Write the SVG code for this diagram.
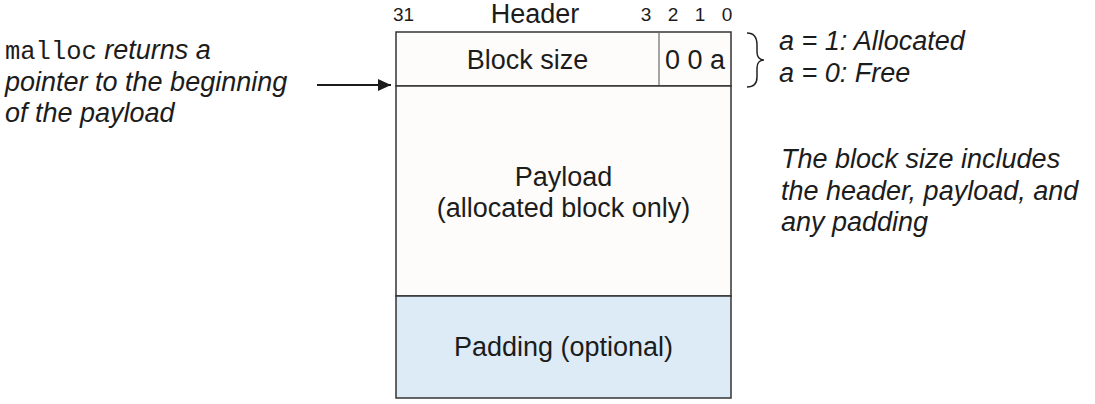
<svg xmlns="http://www.w3.org/2000/svg" width="1095" height="404" viewBox="0 0 1095 404">
  <style>
    .t { font-family: "Liberation Sans", Arial, sans-serif; fill: #1c1c1c; }
    .big { font-size: 27px; }
    .small { font-size: 19px; }
    .it { font-style: italic; }
    .mono { font-family: "Liberation Mono", "Courier New", monospace; font-size: 25.5px; fill: #1c1c1c; }
    .box { stroke: #333333; stroke-width: 1.5; }
    .inner { stroke: #6a6a6a; stroke-width: 1.2; fill: none; }
    .brace { stroke: #222; stroke-width: 1.5; fill: none; }
    .conn { stroke: #1c1c1c; stroke-width: 2; fill: none; }
  </style>
  <defs>
    <marker id="arrow" markerWidth="13" markerHeight="12" refX="13" refY="6" orient="auto" markerUnits="userSpaceOnUse">
      <path d="M0,0 L13,6 L0,12 Z" fill="#1c1c1c"/>
    </marker>
  </defs>
  <rect width="1095" height="404" fill="#ffffff"/>

  <g id="bit-labels">
    <text class="t small" x="393" y="21">31</text>
    <text class="t big" x="535" y="23" text-anchor="middle">Header</text>
    <text class="t small" x="646" y="21" text-anchor="middle">3</text>
    <text class="t small" x="673" y="21" text-anchor="middle">2</text>
    <text class="t small" x="700" y="21" text-anchor="middle">1</text>
    <text class="t small" x="727" y="21" text-anchor="middle">0</text>
  </g>

  <g id="header">
    <rect class="box" x="396" y="32" width="335" height="54" fill="#fdfcfa"/>
    <line class="inner" x1="659" y1="32" x2="659" y2="86"/>
    <text class="t big" x="527.5" y="69" text-anchor="middle">Block size</text>
    <text class="t big" x="695" y="69" text-anchor="middle">0 0 a</text>
  </g>

  <g id="payload">
    <rect class="box" x="396" y="86" width="335" height="210" fill="#fdfcfa"/>
    <text class="t big" x="563.5" y="186" text-anchor="middle">Payload</text>
    <text class="t big" x="563.5" y="217" text-anchor="middle">(allocated block only)</text>
  </g>

  <g id="padding">
    <rect class="box" x="396" y="296" width="335" height="102" fill="#dcebf6"/>
    <text class="t big" x="563.5" y="356" text-anchor="middle">Padding (optional)</text>
  </g>

  <g id="malloc-note">
    <text x="5" y="59"><tspan class="mono">malloc</tspan><tspan class="t big it"> returns a</tspan></text>
    <text class="t big it" x="5" y="91">pointer to the beginning</text>
    <text class="t big it" x="5" y="122">of the payload</text>
  </g>

  <g id="alloc-note">
    <path class="brace" d="M747,33 C754,33 757,38 757,45 L757,52 C757,57 760,60 764,60 C760,60 757,63 757,68 L757,77 C757,84 754,87 747,87"/>
    <text class="t big it" x="779" y="50">a = 1: Allocated</text>
    <text class="t big it" x="779" y="82">a = 0: Free</text>
  </g>

  <g id="size-note">
    <text class="t big it" x="781" y="168">The block size includes</text>
    <text class="t big it" x="781" y="200">the header, payload, and</text>
    <text class="t big it" x="781" y="231">any padding</text>
  </g>

  <g id="connectors">
    <line class="conn" x1="317" y1="85" x2="391" y2="85" marker-end="url(#arrow)"/>
  </g>
</svg>
